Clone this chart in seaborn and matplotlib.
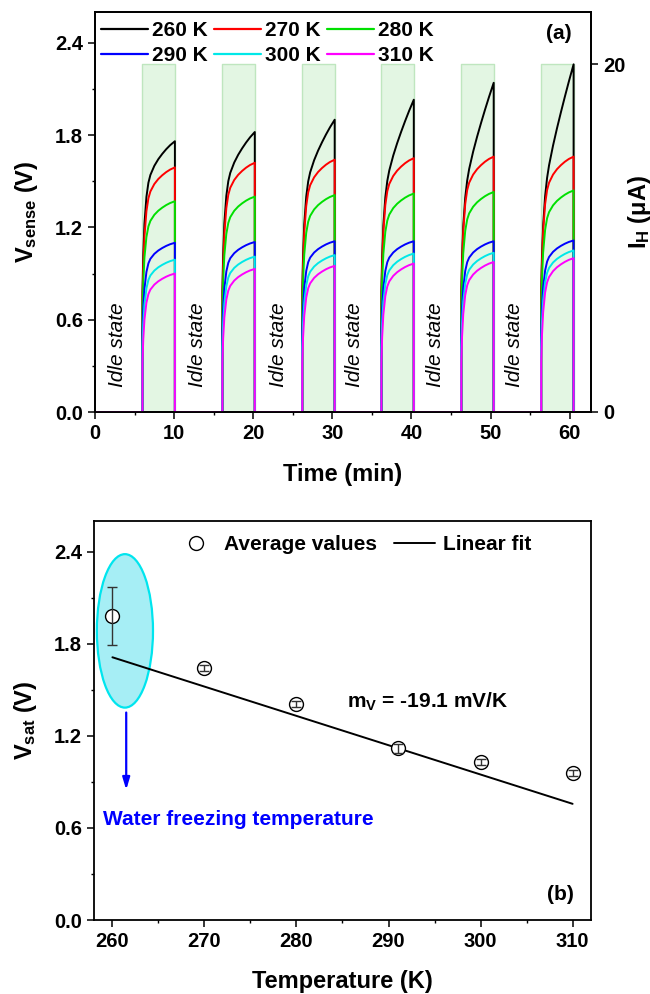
import numpy as np
import pandas as pd
import matplotlib
matplotlib.use("Agg")
import matplotlib.pyplot as plt
from matplotlib.patches import Ellipse
from matplotlib.lines import Line2D
from matplotlib.ticker import MultipleLocator, FormatStrFormatter
import seaborn as sns

# ---------------- panel (a): sensing voltage during heating pulses ----------------
temperatures = ["260 K", "270 K", "280 K", "290 K", "300 K", "310 K"]
line_colors = ["#000000", "#ff0000", "#00e000", "#0000ff", "#00e8e8", "#ff00ff"]

pulse_start = [6.0, 16.1, 26.2, 36.2, 46.3, 56.4]   # min
pulse_length = 4.1                                   # min
pulse_current = 20.0                                 # uA

# voltage right after switch-on, per temperature (V)
v_start = [0.78, 0.72, 0.66, 0.52, 0.42, 0.32]
# voltage at the end of each pulse (V)
v_end_260 = [1.76, 1.82, 1.90, 2.03, 2.14, 2.26]
v_end_270 = [1.59, 1.62, 1.64, 1.65, 1.66, 1.66]
v_end_280 = [1.37, 1.40, 1.41, 1.42, 1.43, 1.44]
v_end_290 = [1.10, 1.105, 1.11, 1.11, 1.11, 1.115]
v_end_300 = [0.99, 1.01, 1.02, 1.03, 1.035, 1.05]
v_end_310 = [0.90, 0.93, 0.95, 0.965, 0.975, 1.00]
# share of the rise that settles quickly; the rest keeps creeping up during the pulse
fast_share_260 = [0.85, 0.80, 0.72, 0.62, 0.55, 0.50]
fast_share_other = [0.92, 0.92, 0.92, 0.92, 0.92, 0.92]
# normalised rise of the fast part versus time after switch-on (min)
rise_time = [0.0, 0.1, 0.25, 0.5, 0.75, 1.0, 1.5, 2.0, 2.5, 3.0, 3.5, 4.1]
rise_shape = [0.0, 0.28, 0.52, 0.72, 0.82, 0.87, 0.92, 0.95, 0.97, 0.985, 0.995, 1.0]

v_end = [v_end_260, v_end_270, v_end_280, v_end_290, v_end_300, v_end_310]
fast_share = [fast_share_260] + [fast_share_other] * 5

idle_centers = [2.9, 13.0, 23.2, 32.8, 43.0, 53.0]

# ---------------- panel (b): saturation voltage vs temperature ----------------
temp_k = [260, 270, 280, 291, 300, 310]
v_sat = [1.98, 1.64, 1.41, 1.12, 1.03, 0.96]
v_sat_err = [0.19, 0.02, 0.02, 0.03, 0.02, 0.02]
fit_slope = -0.0191      # V/K
fit_at_260 = 1.712       # V
fit_temp = [260, 310]

# ---------------- build long table for the transients ----------------
rows = []
rt = np.array(rise_time)
rs = np.array(rise_shape)
for ti, name in enumerate(temperatures):
    rows.append((name, 0.0, 0.0))
    for pi, s in enumerate(pulse_start):
        rows.append((name, s, 0.0))
        k = fast_share[ti][pi]
        frac = k * rs + (1 - k) * rt / pulse_length
        vals = v_start[ti] + (v_end[ti][pi] - v_start[ti]) * frac
        for t, v in zip(rt, vals):
            rows.append((name, s + t, v))
        rows.append((name, s + pulse_length, 0.0))
df = pd.DataFrame(rows, columns=["T", "time", "V"])

# ---------------- style ----------------
sns.set_theme(style="ticks")
plt.rcParams.update({
    "font.family": ["Liberation Sans", "DejaVu Sans"],
    "font.weight": "bold",
    "axes.labelweight": "bold",
    "text.color": "black",
    "axes.labelcolor": "black",
    "axes.linewidth": 1.3,
    "xtick.major.width": 1.1, "ytick.major.width": 1.1,
    "xtick.minor.width": 1.0, "ytick.minor.width": 1.0,
    "xtick.major.size": 5, "ytick.major.size": 5,
    "xtick.minor.size": 2.5, "ytick.minor.size": 2.5,
    "xtick.direction": "out", "ytick.direction": "out",
    "xtick.color": "black", "ytick.color": "black",
    "xtick.labelcolor": "black", "ytick.labelcolor": "black",
    "axes.edgecolor": "black",
    "xtick.labelsize": 14.5, "ytick.labelsize": 14.5,
    "mathtext.fontset": "custom",
    "mathtext.rm": "Liberation Sans",
    "mathtext.bf": "Liberation Sans:bold",
    "mathtext.it": "Liberation Sans:italic",
})

W, H = 650, 994
fig = plt.figure(figsize=(W / 100, H / 100), dpi=100)
fig.patch.set_facecolor("white")

def px_axes(left, top, right, bottom):
    return fig.add_axes([left / W, 1 - bottom / H, (right - left) / W, (bottom - top) / H])

# ---------------- panel (a) ----------------
ax = px_axes(95, 12, 591, 412)
ax2 = ax.twinx()
ax.set_zorder(2)
ax2.set_zorder(1)
ax.patch.set_visible(False)

for s in pulse_start:
    ax2.fill_between([s, s + pulse_length], 0, pulse_current,
                     facecolor="#e3f6e3", edgecolor="#bfe6bf", lw=1.0)

sns.lineplot(data=df, x="time", y="V", hue="T", hue_order=temperatures,
             palette=line_colors, sort=False, estimator=None, lw=1.4,
             legend=False, ax=ax)

ax.set_xlim(0, 62.7)
ax.set_ylim(0, 2.6)
ax2.set_ylim(0, 2.6 / 2.26 * pulse_current)
ax.xaxis.set_major_locator(MultipleLocator(10))
ax.xaxis.set_minor_locator(MultipleLocator(5))
ax.yaxis.set_major_locator(MultipleLocator(0.6))
ax.yaxis.set_minor_locator(MultipleLocator(0.3))
ax.yaxis.set_major_formatter(FormatStrFormatter("%.1f"))
ax2.set_yticks([0, 20])
ax2.set_yticklabels(["0", "20"])

ax.set_xlabel("Time (min)", fontsize=17)
ax.set_ylabel(r"V$_{\mathrm{sense}}$ (V)", fontsize=17)
ax2.set_ylabel(r"I$_{\mathrm{H}}$ (μA)", fontsize=17)
ax.xaxis.set_label_coords(0.5, -0.128)
ax.yaxis.set_label_coords(-0.11, 0.5)
ax2.yaxis.set_label_coords(1.07, 0.5)

for xc in idle_centers:
    ax.text(xc, 0.44, "Idle state", rotation=90, fontsize=15, fontstyle="italic",
            fontweight="normal", ha="center", va="center")

ax.text(58.6, 2.46, "(a)", fontsize=15, ha="center", va="center")

handles = [Line2D([], [], color=c, lw=1.6) for c in line_colors]
order = [0, 3, 1, 4, 2, 5]
ax.legend([handles[i] for i in order], [temperatures[i] for i in order],
          ncol=3, loc="upper left", bbox_to_anchor=(0.012, 0.978), frameon=False,
          fontsize=15, handlelength=2.25, handletextpad=0.2, columnspacing=0.3,
          labelspacing=0.3, borderpad=0, borderaxespad=0)

# ---------------- panel (b) ----------------
bx = px_axes(94, 521, 591, 920)

bx.add_patch(Ellipse((261.36, 1.884), width=6.1, height=1.0,
                     facecolor="#a6eef5", edgecolor="#00e5ee", lw=1.6, zorder=1))
bx.annotate("", xy=(261.5, 0.83), xytext=(261.5, 1.37),
            arrowprops=dict(arrowstyle="-|>,head_length=0.6,head_width=0.18",
                            color="#0000ff", lw=1.6, mutation_scale=12))
bx.text(259.0, 0.657, "Water freezing temperature", color="#0000ff",
        fontsize=15, ha="left", va="center")

fit_v = [fit_at_260 + fit_slope * (t - 260) for t in fit_temp]
sns.lineplot(x=fit_temp, y=fit_v, color="black", lw=1.4, ax=bx, zorder=2)
sns.scatterplot(x=temp_k, y=v_sat, marker="o", s=100, facecolor="white",
                edgecolor="black", linewidth=1.0, ax=bx, zorder=3)
bx.errorbar(temp_k, v_sat, yerr=v_sat_err, fmt="none", ecolor="#333333",
            elinewidth=1.0, capsize=3.5, capthick=1.0, zorder=4)

bx.set_xlim(258.0, 312.0)
bx.set_ylim(0, 2.6)
bx.xaxis.set_major_locator(MultipleLocator(10))
bx.xaxis.set_minor_locator(MultipleLocator(5))
bx.yaxis.set_major_locator(MultipleLocator(0.6))
bx.yaxis.set_minor_locator(MultipleLocator(0.3))
bx.yaxis.set_major_formatter(FormatStrFormatter("%.1f"))

bx.set_xlabel("Temperature (K)", fontsize=17)
bx.set_ylabel(r"V$_{\mathrm{sat}}$ (V)", fontsize=17)
bx.xaxis.set_label_coords(0.5, -0.125)
bx.yaxis.set_label_coords(-0.11, 0.5)

bx.text(285.5, 1.42, r"m$_{\mathrm{V}}$ = -19.1 mV/K", fontsize=15, ha="left", va="center")
bx.text(308.7, 0.163, "(b)", fontsize=15, ha="center", va="center")

leg_handles = [Line2D([], [], marker="o", ls="none", mfc="white", mec="black", ms=10, mew=1.0),
               Line2D([], [], color="black", lw=1.4)]
bx.legend(leg_handles, ["Average values", "Linear fit"], ncol=2, loc="upper left",
          bbox_to_anchor=(0.163, 0.965), frameon=False, fontsize=15,
          handlelength=2.0, handletextpad=0.35, columnspacing=0.8,
          borderpad=0, borderaxespad=0)

fig.savefig("out.png", dpi=100, facecolor="white")
